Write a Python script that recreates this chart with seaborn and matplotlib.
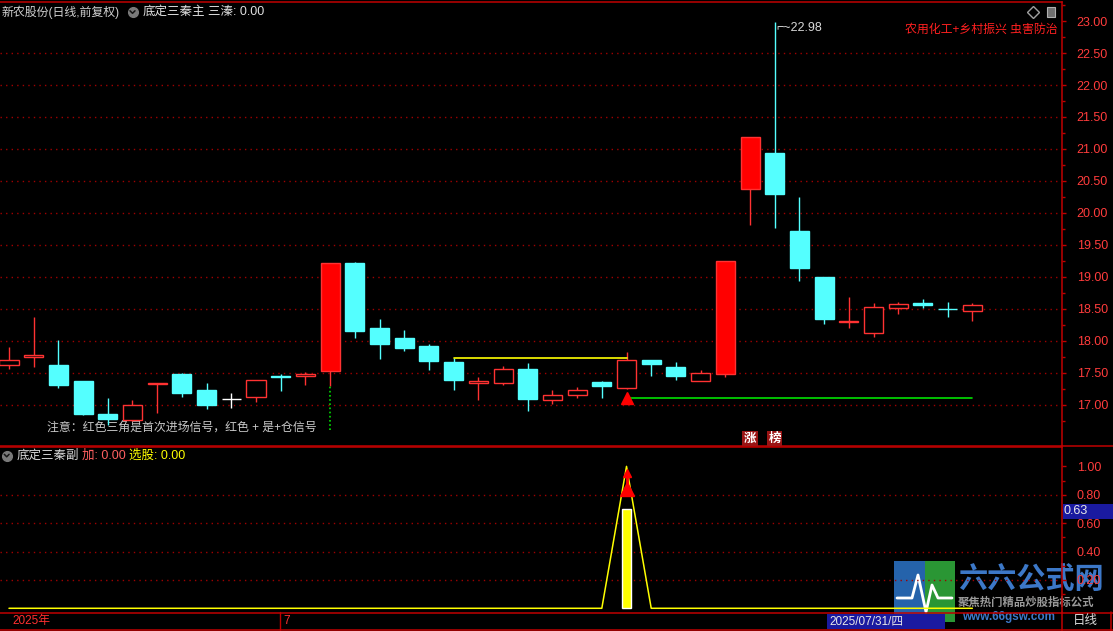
import numpy as np
import pandas as pd
import matplotlib
matplotlib.use("Agg")
import matplotlib.pyplot as plt
import seaborn as sns
from matplotlib.patches import Rectangle

# ---- daily bars, 40 sessions ----
opens = [17.62, 17.75, 17.63, 17.38, 16.86, 16.77, 17.33, 17.48, 17.23, 17.10,
         17.13, 17.45, 17.45, 17.53, 19.22, 18.20, 18.05, 17.92, 17.67, 17.35,
         17.35, 17.56, 17.08, 17.16, 17.36, 17.27, 17.70, 17.59, 17.38, 17.49,
         20.375, 20.94, 19.72, 19.00, 18.30, 18.13, 18.52, 18.59, 18.505, 18.47]
highs = [17.91, 18.37, 18.02, 17.38, 17.11, 17.08, 17.34, 17.50, 17.35, 17.18,
         17.39, 17.48, 17.52, 19.22, 19.23, 18.34, 18.17, 17.95, 17.73, 17.44,
         17.61, 17.66, 17.23, 17.28, 17.37, 17.83, 17.70, 17.67, 17.55, 19.25,
         21.19, 22.98, 20.25, 19.00, 18.69, 18.59, 18.61, 18.65, 18.61, 18.60]
lows = [17.57, 17.60, 17.27, 16.85, 16.68, 16.75, 16.88, 17.12, 16.93, 16.96,
        17.04, 17.22, 17.31, 17.30, 18.05, 17.72, 17.84, 17.55, 17.24, 17.07,
        17.31, 16.91, 17.02, 17.11, 17.11, 17.25, 17.45, 17.39, 17.38, 17.43,
        19.81, 19.77, 18.93, 18.26, 18.21, 18.07, 18.42, 18.51, 18.37, 18.32]
closes = [17.70, 17.78, 17.32, 16.86, 16.78, 17.00, 17.34, 17.18, 17.00, 17.10,
          17.39, 17.44, 17.48, 19.22, 18.16, 17.95, 17.89, 17.69, 17.39, 17.38,
          17.57, 17.09, 17.15, 17.23, 17.30, 17.70, 17.645, 17.45, 17.50, 19.25,
          21.19, 20.30, 19.145, 18.34, 18.31, 18.53, 18.58, 18.57, 18.50, 18.57]

# indicator pieces
resist_start, resist_end, resist_level = 18, 25, 17.73   # yellow line
entry_bar, entry_end, entry_level = 25, 39, 17.11        # red triangle + green line
stop_bar, stop_top, stop_bottom = 13, 17.30, 16.61       # green dotted stem
limit_tags = [(30, "涨"), (31, "榜")]
peak_bar, peak_label = 31, "22.98"

# lower panel
signal_line = [0, 0, 0, 0, 0, 0, 0, 0, 0, 0,
               0, 0, 0, 0, 0, 0, 0, 0, 0, 0,
               0, 0, 0, 0, 0, 1.0, 0, 0, 0, 0,
               0, 0, 0, 0, 0, 0, 0, 0, 0, 0]
signal_bar_x, signal_bar_h = 25, 0.70
arrow_levels = [0.84, 0.95]

price_ticks = [17.0, 17.5, 18.0, 18.5, 19.0, 19.5, 20.0, 20.5, 21.0, 21.5, 22.0, 22.5, 23.0]
price_grid = [17.0, 17.5, 18.0, 18.5, 19.0, 19.5, 20.0, 20.5, 21.0, 21.5, 22.0, 22.5]
sub_ticks = [0.2, 0.4, 0.6, 0.8, 1.0]
sub_grid = [0.2, 0.4, 0.6, 0.8]

RED = "#ff3232"
RED_FILL = "#ff0000"
CYAN = "#54ffff"
FRAME = "#c00000"
GRIDC = "#a00000"
LABEL = "#ff3c3c"

sns.set_theme(style="dark", rc={"axes.facecolor": "black", "figure.facecolor": "black"})
plt.rcParams['font.family'] = ['Liberation Sans', 'Noto Sans CJK SC', 'DejaVu Sans']

W, H = 1113, 631
fig = plt.figure(figsize=(W / 100, H / 100), dpi=100)

# watermark logo sits underneath the panels
lg = fig.add_axes([0, 0, 1, 1], zorder=-1)
lg.set_xlim(0, W)
lg.set_ylim(H, 0)
lg.axis("off")
lg.add_patch(Rectangle((894, 561), 31, 61, fc="#2a6fbf", ec="none", alpha=0.9))
lg.add_patch(Rectangle((925, 561), 30, 61, fc="#2fa83a", ec="none", alpha=0.9))
lg.plot([897, 912, 918, 926, 932, 938, 952], [598, 598, 575, 612, 585, 598, 598],
        color="white", lw=2)
lg.text(958, 580, "六六公式网", color="#3c78c8", fontsize=21, fontweight="bold", va="center")
lg.text(958, 602, "聚焦热门精品炒股指标公式", color="#9a9a9a", fontsize=8.2,
        fontweight="bold", va="center")
lg.text(962, 617, "www.66gsw.com", color="#3c78c8", fontsize=8.5, fontweight="bold",
        va="center")


def px_axes(left, top, right, bottom):
    return fig.add_axes([left / W, 1 - bottom / H, (right - left) / W, (bottom - top) / H])


ax = px_axes(0, 2, 1061.5, 446)
ax2 = px_axes(0, 446.5, 1061.5, 612.5)
xlim = (-0.364, 42.61)

df = pd.DataFrame({"open": opens, "high": highs, "low": lows, "close": closes})
df["x"] = np.arange(len(df))
up = df.close > df.open
down = df.close < df.open
limit_up = up & (df.close >= df.close.shift(1) * 1.095)
edge = np.where(up, RED, np.where(down, CYAN, "#ffffff"))
face = np.where(down, CYAN, np.where(limit_up, RED_FILL, "black"))

for a in (ax, ax2):
    a.patch.set_alpha(0)
    a.grid(False)
    a.set_xlim(*xlim)
    a.set_xticks([])
    a.yaxis.tick_right()
    a.spines["left"].set_visible(False)
    for s in ("top", "bottom", "right"):
        a.spines[s].set_color(FRAME)
        a.spines[s].set_linewidth(1.1)
    a.tick_params(axis="y", which="major", colors=FRAME, labelcolor=LABEL,
                  length=3, width=1, direction="out", pad=8, labelsize=9)
    a.tick_params(axis="y", which="minor", colors=FRAME, length=2.5, width=1,
                  direction="out", right=True, left=False)

# ---- upper panel: candles ----
ax.set_ylim(16.359, 23.297)
ax.hlines(price_grid, *xlim, colors=GRIDC, linestyles=(0, (1, 3)), lw=1, zorder=1)
ax.vlines(df.x, df.low, df.high, colors=edge, lw=1, zorder=3)
ax.bar(df.x, (df.close - df.open).abs(), bottom=np.minimum(df.open, df.close),
       width=0.77, color=face, edgecolor=edge, linewidth=1, zorder=4)

ax.vlines(stop_bar, stop_bottom, stop_top, colors="#00e000", lw=1.2,
          linestyles=(0, (1, 1.5)), zorder=3)
sns.lineplot(x=[resist_start, resist_end], y=[resist_level, resist_level],
             color="#ffff00", lw=1.2, ax=ax, zorder=5)
sns.lineplot(x=[entry_bar, entry_end], y=[entry_level, entry_level],
             color="#00e000", lw=1.2, ax=ax, zorder=5)
ax.plot(entry_bar, entry_level, marker="^", ms=9, color=RED_FILL, zorder=6)

ax.annotate("⌐~" + peak_label, (peak_bar, highs[peak_bar]), xytext=(1, -4),
            textcoords="offset points", color="#d8d8d8", fontsize=9,
            va="center", ha="left", zorder=6)
for bx, tag in limit_tags:
    ax.text(bx, 16.47, tag, color="white", fontsize=9, fontweight="bold",
            ha="center", va="center", zorder=6,
            bbox=dict(boxstyle="square,pad=0.12", fc="#9a1414", ec="none"))
ax.text(38 / 24.7, 16.63, "注意：红色三角是首次进场信号，红色 + 是+仓信号",
        color="#c8c8c8", fontsize=8.6, va="center", ha="left", zorder=2)

ax.set_yticks(price_ticks)
ax.set_yticklabels([f"{v:.2f}" for v in price_ticks])
ax.set_yticks(np.arange(16.75, 23.3, 0.25), minor=True)
ax.set_ylabel("")

# ---- lower panel ----
ax2.set_ylim(-0.0297, 1.140)
ax2.hlines(sub_grid, *xlim, colors=GRIDC, linestyles=(0, (1, 3)), lw=1, zorder=1)
ax2.bar(signal_bar_x, signal_bar_h, width=0.4, color="#ffff00", zorder=3)
sns.lineplot(x=np.arange(len(signal_line)), y=signal_line, color="#ffff00",
             lw=1.1, ax=ax2, zorder=4)
ax2.plot(signal_bar_x, arrow_levels[0], marker="^", ms=10, color=RED_FILL, zorder=5)
ax2.vlines(signal_bar_x, arrow_levels[0] + 0.03, arrow_levels[1], colors=RED_FILL, lw=2, zorder=5)
ax2.plot(signal_bar_x, arrow_levels[1], marker="^", ms=6, color=RED_FILL, zorder=5)
ax2.set_yticks(sub_ticks)
ax2.set_yticklabels([f"{v:.2f}" for v in sub_ticks])
ax2.set_yticks(np.arange(0.1, 1.1, 0.1), minor=True)
ax2.set_ylabel("")

# ---- overlay: headers, bottom strip ----
ov = fig.add_axes([0, 0, 1, 1])
ov.set_xlim(0, W)
ov.set_ylim(H, 0)
ov.axis("off")

ov.text(2, 12, "新农股份(日线,前复权)", color="#d0d0d0", fontsize=8.6, va="center")
ov.plot(132.5, 12, "o", ms=7, color="#7a7a7a")
ov.plot([130, 132.5, 135], [10.8, 13.3, 10.8], color="#151515", lw=1.1)
ov.text(143, 12, "底定三秦主", color="#e0e0e0", fontsize=9, va="center")
ov.text(208, 12, "三溱: 0.00", color="#e0e0e0", fontsize=9, va="center")
ov.plot(1033, 12, "D", ms=6, mfc="none", mec="#a0a0a0", mew=1)
ov.add_patch(Rectangle((1047, 7), 8, 10, fc="#707070", ec="#b0b0b0", lw=0.8))
ov.text(1058, 30, "农用化工+乡村振兴 虫害防治", color="#ff2020", fontsize=8.6,
        va="center", ha="right")

ov.plot(6.7, 455.5, "o", ms=7, color="#7a7a7a")
ov.plot([4.3, 6.7, 9.1], [454.3, 456.8, 454.3], color="#151515", lw=1.1)
ov.text(17, 456, "底定三秦副", color="#d8d8d8", fontsize=9, va="center")
ov.text(82, 456, "加: 0.00", color="#ff6060", fontsize=9, va="center")
ov.text(129, 456, "选股: 0.00", color="#ffff00", fontsize=9, va="center")

ov.add_patch(Rectangle((1062.5, 504), 50, 15, fc="#1a1aa0", ec="none", zorder=3))
ov.text(1064, 511.5, "0.63", color="#e8e8e8", fontsize=9, va="center", zorder=4)

# bottom date strip
ov.plot([0, W], [629.5, 629.5], color=FRAME, lw=1.1)
ov.plot([1061.5, 1061.5], [612, 631], color=FRAME, lw=1.1)
ov.plot([1111, 1111], [612, 631], color=FRAME, lw=1.1)
ov.plot([1061.5, W], [612.5, 612.5], color=FRAME, lw=1.1)
ov.plot([1061.5, W], [446, 446], color=FRAME, lw=1.1)
ov.plot([280, 280], [612, 630], color=FRAME, lw=1)
ov.text(12, 621, "2025年", color="#ff3030", fontsize=8.5, va="center")
ov.text(283, 621, "7", color="#ff3030", fontsize=8.5, va="center")
ov.add_patch(Rectangle((827, 613.5), 118, 15, fc="#1a1aa0", ec="none"))
ov.text(829, 621, "2025/07/31/四", color="#e8e8e8", fontsize=8.5, va="center")
ov.text(1073, 621, "日线", color="#d8d8d8", fontsize=9, va="center")

fig.savefig("out.png", dpi=100, facecolor="black")
